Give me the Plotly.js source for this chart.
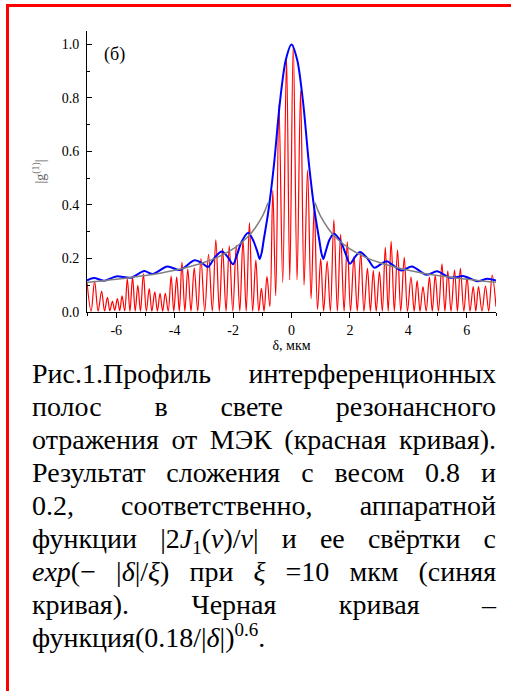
<!DOCTYPE html>
<html>
<head>
<meta charset="utf-8">
<script src="https://cdn.plot.ly/plotly-3.0.1.min.js"></script>
<style>
  body { margin: 0; background: #fff; }
  .frame { position: absolute; left: 6px; top: 4px; width: 520px; height: 700px;
           border-left: 3px solid #ff0000; border-top: 3px solid #ff0000; }
  .cap { position: absolute; left: 32px; top: 357px; width: 464px; font-size: 28px; color: #000;
         font-family: 'Times New Roman', 'Liberation Serif', serif; }
  .ln { height: 33px; line-height: 33px; white-space: nowrap; text-align: justify; text-align-last: justify; }
  .last { text-align: left; text-align-last: left; }
  .sb { font-size: 19px; line-height: 0; position: relative; top: 6px; }
  .sp { font-size: 19px; line-height: 0; position: relative; top: -11px; }
</style>
</head>
<body>
<div class="frame"></div>
<div id="plot" style="position:absolute; left:0; top:0; width:511px; height:360px"></div>
<div class="cap">
  <div class="ln">Рис.1.Профиль интерференционных</div>
  <div class="ln">полос в свете резонансного</div>
  <div class="ln">отражения от МЭК (красная кривая).</div>
  <div class="ln">Результат сложения с весом 0.8 и</div>
  <div class="ln">0.2, соответственно, аппаратной</div>
  <div class="ln">функции |2<i>J</i><span class="sb">1</span>(<i>ν</i>)/<i>ν</i>| и ее свёртки с</div>
  <div class="ln"><i>exp</i>(− |<i>δ</i>|/<i>ξ</i>) при <i>ξ</i> =10 мкм (синяя</div>
  <div class="ln">кривая). Черная кривая –</div>
  <div class="ln last">функция(0.18/|<i>δ</i>|)<span class="sp">0.6</span>.</div>
</div>
<script>
// Interference fringe profile (red), peaks and troughs along δ, мкм
const redX = [-7.00,-6.86,-6.74,-6.62,-6.50,-6.40,-6.30,-6.22,-6.13,-6.05,-5.96,-5.88,-5.80,-5.71,-5.62,-5.53,-5.44,-5.35,-5.26,-5.17,
  -5.07,-4.97,-4.87,-4.78,-4.68,-4.59,-4.50,-4.41,-4.32,-4.22,-4.12,-4.03,-3.93,-3.84,-3.75,-3.65,-3.55,-3.44,-3.33,-3.21,
  -3.10,-2.97,-2.84,-2.71,-2.59,-2.47,-2.36,-2.24,-2.13,-2.01,-1.89,-1.77,-1.66,-1.55,-1.44,-1.33,-1.22,-1.12,-1.03,-0.94,
  -0.84,-0.74,-0.64,-0.54,-0.43,-0.30,-0.17,-0.06,0.06,0.19,0.31,0.43,0.55,0.67,0.78,0.89,1.00,1.10,1.22,1.33,
  1.45,1.57,1.68,1.80,1.91,2.02,2.14,2.25,2.37,2.48,2.60,2.70,2.80,2.90,3.01,3.11,3.21,3.31,3.41,3.52,
  3.63,3.74,3.86,3.97,4.09,4.20,4.30,4.40,4.50,4.61,4.72,4.82,4.92,5.03,5.15,5.25,5.35,5.46,5.58,5.68,
  5.78,5.90,6.01,6.11,6.22,6.31,6.40,6.52,6.64,6.75,6.87,7.00];
const redY = [0.112,0.003,0.115,0.003,0.078,0.004,0.055,0.005,0.040,0.006,0.050,0.005,0.060,0.004,0.124,0.003,0.130,0.003,0.100,0.003,
  0.143,0.003,0.087,0.003,0.075,0.003,0.070,0.003,0.070,0.003,0.134,0.003,0.130,0.003,0.186,0.003,0.160,0.003,0.165,0.003,
  0.200,0.003,0.215,0.003,0.270,0.003,0.238,0.003,0.247,0.003,0.250,0.003,0.270,0.003,0.334,0.003,0.194,0.003,0.088,0.003,
  0.132,0.020,0.455,0.060,0.774,0.110,0.948,0.120,0.998,0.120,0.827,0.100,0.530,0.050,0.400,0.010,0.200,0.003,0.190,0.003,
  0.344,0.003,0.290,0.003,0.263,0.003,0.207,0.003,0.225,0.003,0.163,0.003,0.155,0.003,0.150,0.003,0.242,0.003,0.265,0.003,
  0.232,0.003,0.204,0.003,0.130,0.003,0.117,0.003,0.095,0.003,0.130,0.003,0.138,0.003,0.180,0.003,0.154,0.003,0.157,0.003,
  0.163,0.003,0.132,0.003,0.095,0.003,0.095,0.003,0.097,0.003,0.138,0.020];

// Weighted sum of the apparatus function and its convolution (blue)
const blueX = [-7.00,-6.76,-6.42,-6.00,-5.50,-5.04,-4.75,-4.25,-3.82,-3.32,-3.05,-2.86,-2.62,-2.38,-2.18,-2.00,-1.86,-1.72,-1.48,-1.30,
  -1.16,-1.09,-1.02,-0.95,-0.80,-0.60,-0.40,-0.20,0.00,0.20,0.40,0.60,0.80,0.95,1.02,1.09,1.16,1.30,1.45,1.70,
  1.86,2.00,2.17,2.35,2.60,2.84,3.05,3.26,3.75,4.12,4.62,4.98,5.44,5.90,6.36,6.70,7.00];
const blueY = [0.118,0.127,0.117,0.133,0.128,0.153,0.142,0.170,0.157,0.193,0.182,0.168,0.205,0.226,0.205,0.178,0.215,0.260,0.296,0.265,
  0.222,0.198,0.222,0.270,0.370,0.550,0.780,0.940,1.000,0.940,0.780,0.550,0.370,0.270,0.222,0.198,0.222,0.270,0.292,0.260,
  0.215,0.180,0.205,0.224,0.200,0.165,0.178,0.190,0.155,0.170,0.139,0.152,0.128,0.134,0.115,0.124,0.118];

// Power-law envelope (0.18/|δ|)^0.6 (gray), left and right branches
const grayXL = [-7.00,-6.50,-6.00,-5.50,-5.00,-4.50,-4.00,-3.50,-3.00,-2.50,-2.00,-1.75,-1.50,-1.25,-1.00,-0.90,-0.80];
const grayYL = [0.111,0.116,0.122,0.129,0.136,0.145,0.156,0.169,0.185,0.206,0.236,0.256,0.280,0.313,0.357,0.381,0.409];
const grayXR = [0.80,0.90,1.00,1.25,1.50,1.75,2.00,2.50,3.00,3.50,4.00,4.50,5.00,5.50,6.00,6.50,7.00];
const grayYR = [0.409,0.381,0.357,0.313,0.280,0.256,0.236,0.206,0.185,0.169,0.156,0.145,0.136,0.129,0.122,0.116,0.111];

const xTicks = [-6, -4, -2, 0, 2, 4, 6];
const yTicks = [0.0, 0.2, 0.4, 0.6, 0.8, 1.0];

const serif = 'Times New Roman, Liberation Serif, serif';

const traces = [
  { x: redX, y: redY, type: 'scatter', mode: 'lines',
    line: { color: '#ff0000', width: 1.2, shape: 'spline', smoothing: 1 }, hoverinfo: 'skip' },
  { x: blueX, y: blueY, type: 'scatter', mode: 'lines',
    line: { color: '#0000ff', width: 2, shape: 'spline', smoothing: 0.8 }, hoverinfo: 'skip' },
  { x: grayXL, y: grayYL, type: 'scatter', mode: 'lines',
    line: { color: '#808080', width: 1.5, shape: 'spline' }, hoverinfo: 'skip' },
  { x: grayXR, y: grayYR, type: 'scatter', mode: 'lines',
    line: { color: '#808080', width: 1.5, shape: 'spline' }, hoverinfo: 'skip' }
];

const layout = {
  width: 511, height: 360,
  margin: { l: 87, r: 15, t: 31, b: 48, pad: 0 },
  paper_bgcolor: 'rgba(0,0,0,0)', plot_bgcolor: 'rgba(0,0,0,0)',
  showlegend: false,
  font: { family: serif, size: 14, color: '#000' },
  xaxis: {
    range: [-7, 7], tickvals: xTicks, ticktext: xTicks.map(String),
    ticks: 'outside', ticklen: 5, tickwidth: 1, tickcolor: '#000',
    minor: { dtick: 1, tick0: 0, ticks: 'outside', ticklen: 3, tickcolor: '#000' },
    showline: true, linecolor: '#000', linewidth: 1, showgrid: false, zeroline: false,
    tickfont: { family: serif, size: 14, color: '#000' },
    title: { text: 'δ, мкм', font: { family: serif, size: 14, color: '#000' }, standoff: 0 }
  },
  xaxis2: {
    overlaying: 'x', side: 'top', range: [-7, 7], tickvals: xTicks, showticklabels: false,
    ticks: 'inside', ticklen: 5, tickcolor: '#000',
    minor: { dtick: 1, tick0: 0, ticks: 'inside', ticklen: 3, tickcolor: '#000' },
    showline: true, linecolor: '#000', linewidth: 1, showgrid: false, zeroline: false
  },
  yaxis: {
    range: [0, 1.05], tickvals: yTicks, ticktext: yTicks.map(v => v.toFixed(1)),
    ticks: 'inside', ticklen: 5, tickwidth: 1, tickcolor: '#000',
    minor: { dtick: 0.1, tick0: 0, ticks: 'inside', ticklen: 3, tickcolor: '#000' },
    showline: true, linecolor: '#000', linewidth: 1, showgrid: false, zeroline: false,
    tickfont: { family: serif, size: 14, color: '#000' }, ticklabelstandoff: 4,
    title: { text: '|g<sup>(1)</sup>|', font: { family: serif, size: 14, color: '#666' }, standoff: 12 }
  },
  yaxis2: {
    overlaying: 'y', side: 'right', range: [0, 1.05], tickvals: yTicks, showticklabels: false,
    ticks: 'inside', ticklen: 5, tickcolor: '#777',
    minor: { dtick: 0.1, tick0: 0, ticks: 'inside', ticklen: 3, tickcolor: '#777' },
    showline: true, linecolor: '#777', linewidth: 1.5, showgrid: false, zeroline: false
  },
  annotations: [
    { x: -6.5, y: 0.964, xref: 'x', yref: 'y', xanchor: 'left', yanchor: 'middle',
      text: '(б)', showarrow: false, font: { family: serif, size: 18, color: '#000' } }
  ]
};

Plotly.newPlot('plot', traces, layout, { displayModeBar: false, staticPlot: true });
</script>
</body>
</html>
